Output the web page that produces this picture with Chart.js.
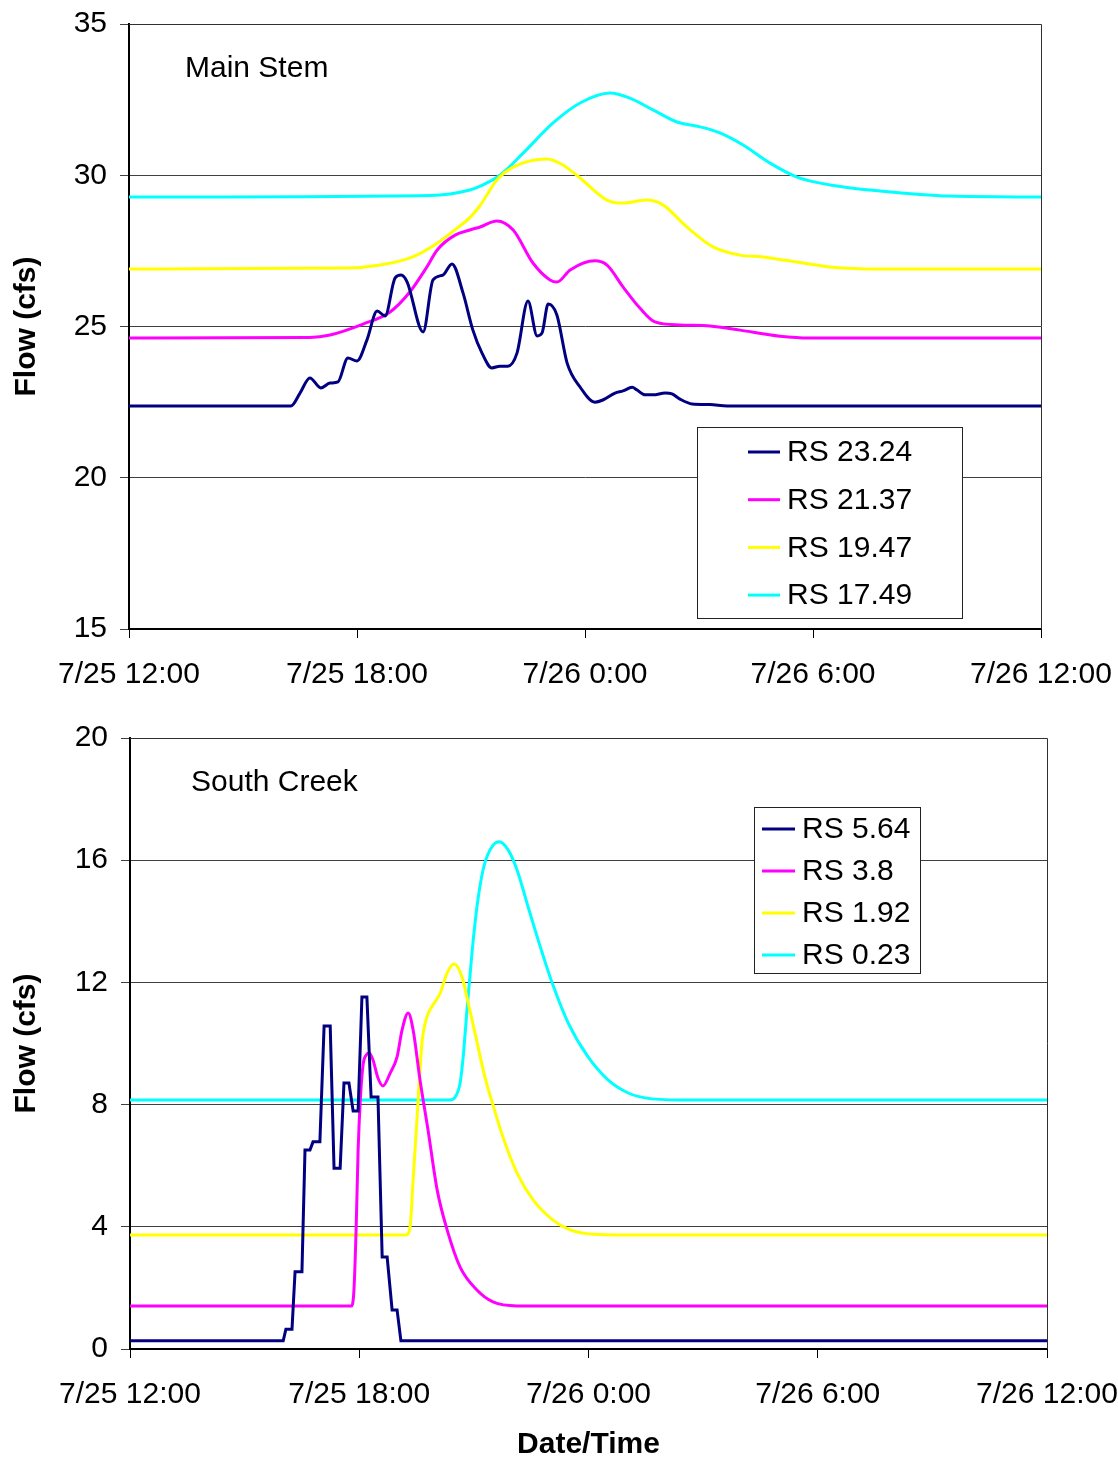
<!DOCTYPE html>
<html>
<head>
<meta charset="utf-8">
<script src="https://cdn.jsdelivr.net/npm/chart.js@4/dist/chart.umd.min.js"></script>
<style>
  html, body { margin: 0; padding: 0; background: #fff; }
  #wrap { position: relative; width: 1118px; height: 1463px; }
  #c1 { position: absolute; left: 0; top: 0; }
  #c2 { position: absolute; left: 0; top: 700px; }
</style>
</head>
<body>
<div id="wrap">
  <canvas id="c1" width="1118" height="700"></canvas>
  <canvas id="c2" width="1118" height="763"></canvas>
</div>
<script>
// ---------- tick labels (hours after 7/25 12:00) ----------
const xTickHours = [0, 6, 12, 18, 24];
const xTickLabels = ['7/25 12:00', '7/25 18:00', '7/26 0:00', '7/26 6:00', '7/26 12:00'];

// ---------- Main Stem ----------
const mainLabels = ['RS 23.24', 'RS 21.37', 'RS 19.47', 'RS 17.49'];
const mainColors = ['#000080', '#FF00FF', '#FFFF00', '#00FFFF'];

const ms2324Hours = [0, 4.26, 4.50, 4.76, 5.05, 5.29, 5.50, 5.76, 6.00, 6.26, 6.53, 6.74, 7.00, 7.16, 7.32, 7.74, 8.00, 8.26, 8.50, 8.79, 9.05, 9.29, 9.55, 9.76, 9.97, 10.21, 10.50, 10.74, 10.87, 11.03, 11.26, 11.53, 11.87, 12.26, 12.47, 12.79, 13.00, 13.24, 13.37, 13.58, 13.79, 14.11, 14.29, 14.50, 14.82, 15.29, 15.74, 24];
const ms2324Flow  = [22.37, 22.37, 22.80, 23.30, 22.97, 23.13, 23.17, 23.96, 23.86, 24.55, 25.51, 25.35, 26.60, 26.70, 26.47, 24.82, 26.54, 26.70, 27.07, 26.11, 24.88, 24.12, 23.63, 23.69, 23.69, 24.12, 25.84, 24.69, 24.79, 25.74, 25.38, 23.79, 23.00, 22.50, 22.57, 22.80, 22.87, 22.99, 22.90, 22.74, 22.74, 22.80, 22.77, 22.60, 22.44, 22.42, 22.37, 22.37];

const ms2137Hours = [0, 4.76, 5.29, 6.16, 6.87, 7.39, 7.84, 8.11, 8.58, 8.97, 9.24, 9.68, 10.11, 10.63, 11.08, 11.26, 11.61, 12.26, 12.58, 13.00, 13.45, 13.84, 14.50, 15.29, 16.08, 17.13, 17.92, 24];
const ms2137Flow  = [24.62, 24.64, 24.72, 25.08, 25.48, 26.14, 26.97, 27.53, 28.02, 28.19, 28.29, 28.49, 28.19, 27.10, 26.54, 26.47, 26.87, 27.17, 27.03, 26.31, 25.60, 25.15, 25.05, 25.02, 24.88, 24.68, 24.62, 24.62];

const ms1947Hours = [0, 5.74, 6.61, 7.47, 8.11, 8.58, 8.97, 9.24, 9.68, 10.11, 11.00, 11.42, 11.87, 12.58, 13.00, 13.63, 14.05, 14.68, 15.37, 16.08, 16.68, 17.58, 18.45, 19.76, 24];
const ms1947Flow  = [26.90, 26.93, 27.03, 27.30, 27.75, 28.20, 28.60, 29.00, 29.84, 30.27, 30.54, 30.34, 29.91, 29.18, 29.08, 29.18, 29.02, 28.29, 27.63, 27.36, 27.30, 27.13, 26.97, 26.90, 26.90];

const ms1749Hours = [0, 7.92, 8.97, 9.24, 9.76, 10.37, 11.16, 11.87, 12.66, 13.18, 13.79, 14.42, 15.03, 15.55, 16.16, 16.87, 17.58, 18.45, 19.76, 21.61, 24];
const ms1749Flow  = [29.28, 29.33, 29.51, 29.64, 30.00, 30.73, 31.73, 32.39, 32.72, 32.55, 32.16, 31.76, 31.60, 31.40, 31.00, 30.40, 29.94, 29.68, 29.48, 29.31, 29.28];

// ---------- South Creek ----------
const southLabels = ['RS 5.64', 'RS 3.8', 'RS 1.92', 'RS 0.23'];
const southColors = ['#000080', '#FF00FF', '#FFFF00', '#00FFFF'];

const sc564Hours = [0, 4.01, 4.08, 4.24, 4.32, 4.50, 4.58, 4.71, 4.79, 4.97, 5.08, 5.24, 5.34, 5.50, 5.60, 5.73, 5.84, 5.97, 6.07, 6.20, 6.31, 6.49, 6.60, 6.73, 6.86, 6.99, 7.09, 24];
const sc564Flow  = [0.27, 0.27, 0.65, 0.65, 2.53, 2.53, 6.51, 6.51, 6.78, 6.78, 10.57, 10.57, 5.92, 5.92, 8.71, 8.71, 7.79, 7.79, 11.52, 11.52, 8.25, 8.25, 3.01, 3.01, 1.28, 1.28, 0.27, 0.27];

const sc38Hours = [0, 5.79, 5.86, 5.92, 5.97, 6.03, 6.10, 6.18, 6.26, 6.36, 6.49, 6.62, 6.81, 6.99, 7.12, 7.28, 7.41, 7.59, 7.80, 8.04, 8.30, 8.64, 9.08, 9.50, 10.13, 24];
const sc38Flow  = [1.41, 1.41, 1.90, 4.00, 6.50, 8.20, 9.30, 9.62, 9.69, 9.46, 8.87, 8.61, 9.03, 9.56, 10.44, 11.00, 10.44, 8.81, 7.17, 5.20, 3.90, 2.68, 1.93, 1.54, 1.41, 1.41];

const sc192Hours = [0, 7.23, 7.33, 7.41, 7.51, 7.64, 7.77, 7.93, 8.12, 8.30, 8.48, 8.69, 8.85, 9.03, 9.29, 9.50, 9.76, 10.13, 10.55, 11.07, 11.52, 12.12, 13.61, 24];
const sc192Flow  = [3.73, 3.73, 3.99, 5.53, 7.50, 10.00, 10.87, 11.26, 11.65, 12.31, 12.60, 12.18, 11.33, 10.34, 8.90, 7.99, 6.94, 5.76, 4.88, 4.22, 3.90, 3.76, 3.73, 3.73];

const sc023Hours = [0, 8.38, 8.51, 8.64, 8.72, 8.82, 8.95, 9.08, 9.24, 9.42, 9.66, 9.90, 10.13, 10.42, 10.79, 11.05, 11.47, 11.99, 12.51, 13.04, 13.48, 14.40, 24];
const sc023Flow  = [8.15, 8.15, 8.25, 8.71, 9.56, 11.10, 12.96, 14.47, 15.68, 16.33, 16.60, 16.33, 15.68, 14.47, 12.96, 11.98, 10.67, 9.56, 8.81, 8.38, 8.22, 8.15, 8.15];

// ---------- helpers ----------
const FONT = '"Liberation Sans", Arial, Helvetica, sans-serif';
const FS = 30;
function pts(hours, vals) { return hours.map((h, i) => ({ x: h, y: vals[i] })); }
function ds(label, color, hours, vals, smooth) {
  return {
    label, data: pts(hours, vals), borderColor: color, backgroundColor: color,
    borderWidth: 3, pointRadius: 0, fill: false,
    cubicInterpolationMode: smooth ? 'monotone' : 'default', tension: 0
  };
}

function makePlugin(title, titlePos, legendBox) {
  return {
    id: 'decor',
    beforeDatasetsDraw(chart) {
      const { ctx, chartArea: a } = chart;
      ctx.save();
      ctx.strokeStyle = '#303030';
      ctx.lineWidth = 1;
      ctx.beginPath();
      ctx.moveTo(a.left, a.top + 0.5);
      ctx.lineTo(a.right + 0.5, a.top + 0.5);
      ctx.lineTo(a.right + 0.5, a.bottom);
      ctx.stroke();
      ctx.restore();
    },
    afterDraw(chart) {
      const { ctx } = chart;
      ctx.save();
      ctx.fillStyle = '#000';
      ctx.font = FS + 'px ' + FONT;
      ctx.textBaseline = 'middle';
      ctx.textAlign = 'left';
      ctx.fillText(title, titlePos.x, titlePos.y);
      // legend
      const b = legendBox;
      ctx.fillStyle = '#fff';
      ctx.fillRect(b.x, b.y, b.w, b.h);
      ctx.strokeStyle = '#222';
      ctx.lineWidth = 1;
      ctx.strokeRect(b.x + 0.5, b.y + 0.5, b.w, b.h);
      chart.data.datasets.forEach((d, i) => {
        const y = b.firstY + i * b.step;
        ctx.strokeStyle = d.borderColor;
        ctx.lineWidth = 3;
        ctx.beginPath();
        ctx.moveTo(b.lineX0, y);
        ctx.lineTo(b.lineX1, y);
        ctx.stroke();
        ctx.fillStyle = '#000';
        ctx.font = FS + 'px ' + FONT;
        ctx.textBaseline = 'middle';
        ctx.fillText(d.label, b.textX, y + 1);
      });
      ctx.restore();
    }
  };
}

function makeOptions(yMin, yMax, yStep, yWidth, xHeight, pad, showXTitle) {
  return {
    responsive: false,
    animation: false,
    events: [],
    layout: { padding: pad },
    plugins: { legend: { display: false }, tooltip: { enabled: false } },
    scales: {
      x: {
        type: 'linear', min: 0, max: 24,
        afterBuildTicks(scale) { scale.ticks = xTickHours.map(v => ({ value: v })); },
        afterFit(scale) { scale.height = xHeight; scale.paddingLeft = 0; scale.paddingRight = 0; },
        ticks: {
          color: '#000', font: { family: FONT, size: FS }, padding: 19, maxRotation: 0, autoSkip: false,
          callback: (v) => { const i = xTickHours.indexOf(v); return i >= 0 ? xTickLabels[i] : ''; }
        },
        grid: { drawOnChartArea: false, drawTicks: true, tickLength: 9, color: '#000', lineWidth: 1 },
        border: { display: true, color: '#000', width: 2 },
        title: {
          display: showXTitle, text: 'Date/Time', color: '#000',
          font: { family: FONT, size: FS, weight: 'bold' }, padding: { top: 0, bottom: 0 }
        }
      },
      y: {
        min: yMin, max: yMax,
        afterFit(scale) { scale.width = yWidth; scale.paddingTop = 0; scale.paddingBottom = 0; },
        ticks: { stepSize: yStep, color: '#000', font: { family: FONT, size: FS }, padding: 13 },
        grid: { color: '#404040', lineWidth: 1, tickLength: 9, drawTicks: true },
        border: { display: true, color: '#000', width: 2 },
        title: {
          display: true, text: 'Flow (cfs)', color: '#000',
          font: { family: FONT, size: FS, weight: 'bold' }, padding: { top: 9, bottom: 0 }
        }
      }
    }
  };
}

new Chart(document.getElementById('c1'), {
  type: 'line',
  data: {
    datasets: [
      ds(mainLabels[0], mainColors[0], ms2324Hours, ms2324Flow, true),
      ds(mainLabels[1], mainColors[1], ms2137Hours, ms2137Flow, true),
      ds(mainLabels[2], mainColors[2], ms1947Hours, ms1947Flow, true),
      ds(mainLabels[3], mainColors[3], ms1749Hours, ms1749Flow, true)
    ]
  },
  options: makeOptions(15, 35, 5, 129, 71, { top: 24, right: 77, left: 0, bottom: 0 }, false),
  plugins: [makePlugin('Main Stem', { x: 185, y: 69 },
    { x: 697, y: 427, w: 265, h: 191, firstY: 452, step: 47.7, lineX0: 748, lineX1: 780, textX: 787 })]
});

new Chart(document.getElementById('c2'), {
  type: 'line',
  data: {
    datasets: [
      ds(southLabels[0], southColors[0], sc564Hours, sc564Flow, false),
      ds(southLabels[1], southColors[1], sc38Hours, sc38Flow, true),
      ds(southLabels[2], southColors[2], sc192Hours, sc192Flow, true),
      ds(southLabels[3], southColors[3], sc023Hours, sc023Flow, true)
    ]
  },
  options: makeOptions(0, 20, 4, 130, 114, { top: 38, right: 71, left: 0, bottom: 0 }, true),
  plugins: [makePlugin('South Creek', { x: 191, y: 83 },
    { x: 754, y: 107, w: 166, h: 166, firstY: 129, step: 42, lineX0: 762, lineX1: 795, textX: 802 })]
});
</script>
</body>
</html>
